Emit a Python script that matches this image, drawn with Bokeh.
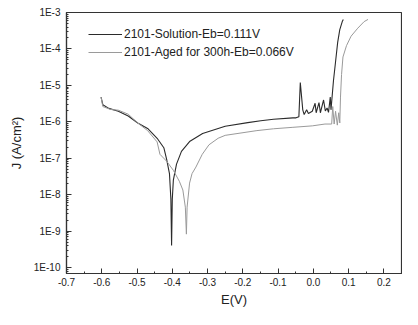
from bokeh.plotting import figure
from bokeh.models import (Range1d, FixedTicker, CustomJSTickFormatter, Legend, LegendItem)
from bokeh.embed import file_html
from bokeh.resources import INLINE

# Data (E in V, log10 of J in A/cm^2)
sol_E = [-0.602, -0.597, -0.580, -0.553, -0.525, -0.498, -0.470, -0.443, -0.424, -0.416,
         -0.408, -0.404, -0.402, -0.400, -0.397, -0.388, -0.374, -0.351, -0.314, -0.250,
         -0.186, -0.149, -0.113, -0.058, -0.049, -0.041, -0.037, -0.030, -0.026, -0.019,
         -0.014, -0.003, 0.005, 0.008, 0.016, 0.020, 0.029, 0.034, 0.039, 0.043,
         0.048, 0.050, 0.057, 0.063, 0.069, 0.075, 0.082, 0.085]
sol_logJ = [-5.32, -5.53, -5.63, -5.71, -5.84, -6.03, -6.18, -6.45, -6.71, -7.03,
            -7.42, -8.12, -9.39, -8.12, -7.60, -7.16, -6.81, -6.54, -6.32, -6.12,
            -6.02, -5.97, -5.93, -5.89, -5.89, -5.86, -4.92, -5.67, -5.80, -5.67,
            -5.77, -5.71, -5.49, -5.75, -5.47, -5.75, -5.40, -5.70, -5.62, -5.74,
            -5.32, -5.67, -4.88, -4.35, -3.82, -3.47, -3.25, -3.19]

aged_E = [-0.602, -0.597, -0.575, -0.553, -0.525, -0.498, -0.470, -0.443, -0.435, -0.416,
          -0.397, -0.380, -0.370, -0.363, -0.360, -0.358, -0.351, -0.344, -0.333, -0.315,
          -0.296, -0.270, -0.250, -0.160, -0.113, -0.058, -0.003, 0.033, 0.052, 0.055,
          0.059, 0.063, 0.068, 0.072, 0.075, 0.077, 0.080, 0.084, 0.094, 0.107,
          0.126, 0.144, 0.155]
aged_logJ = [-5.32, -5.58, -5.66, -5.68, -5.79, -6.03, -6.24, -6.55, -6.89, -7.08,
             -7.33, -7.63, -7.87, -8.34, -9.08, -8.34, -7.68, -7.42, -7.24, -6.89,
             -6.63, -6.45, -6.37, -6.24, -6.19, -6.15, -6.11, -6.06, -6.06, -5.58,
             -6.06, -5.71, -6.09, -5.75, -6.03, -5.32, -4.70, -4.22, -3.91, -3.65,
             -3.43, -3.25, -3.19]

labels = ["2101-Solution-Eb=0.111V", "2101-Aged for 300h-Eb=0.066V"]
x_ticks = [-0.7, -0.6, -0.5, -0.4, -0.3, -0.2, -0.1, 0.0, 0.1, 0.2]
y_decades = [-10, -9, -8, -7, -6, -5, -4, -3]

sol_J = [10 ** v for v in sol_logJ]
aged_J = [10 ** v for v in aged_logJ]

p = figure(width=402, height=309, output_backend="svg", toolbar_location=None,
           y_axis_type="log",
           x_range=Range1d(-0.70, 0.25), y_range=Range1d(10 ** -10.16, 1e-3),
           min_border_left=66, min_border_right=1, min_border_top=12, min_border_bottom=34)
p.background_fill_color = "white"
p.border_fill_color = "white"
p.grid.visible = False
p.outline_line_color = "#333333"
p.outline_line_width = 1.2

r1 = p.line(sol_E, sol_J, line_color="#2b2b2b", line_width=1.1)
r2 = p.line(aged_E, aged_J, line_color="#9a9a9a", line_width=1.0)

# ticks
minor_x = [round(-0.65 + 0.1 * i, 2) for i in range(10)]
p.xaxis.ticker = FixedTicker(ticks=x_ticks, minor_ticks=minor_x)
p.xaxis.formatter = CustomJSTickFormatter(code="return tick.toFixed(1);")
p.yaxis.ticker = FixedTicker(ticks=[10.0 ** d for d in y_decades],
                             minor_ticks=[k * 10.0 ** d for d in range(-11, -3) for k in range(2, 10)])
p.yaxis.formatter = CustomJSTickFormatter(code="return '1E' + Math.round(Math.log10(tick));")

for ax in (p.xaxis[0], p.yaxis[0]):
    ax.axis_line_color = "#333333"
    ax.axis_line_width = 1.2
    ax.major_tick_in = 5
    ax.major_tick_out = 0
    ax.minor_tick_in = 2
    ax.minor_tick_out = 0
    ax.major_tick_line_color = "#333333"
    ax.minor_tick_line_color = "#333333"
    ax.major_label_text_font = "Liberation Sans"
    ax.major_label_text_font_size = "10px"
    ax.major_label_text_color = "#222222"
    ax.axis_label_text_font = "Liberation Sans"
    ax.axis_label_text_font_size = "13px"
    ax.axis_label_text_font_style = "normal"
    ax.axis_label_text_color = "#222222"

p.xaxis.axis_label = "E(V)"
p.yaxis.axis_label = "J (A/cm²)"
p.xaxis.major_label_standoff = 4
p.xaxis.axis_label_standoff = 3
p.yaxis.major_label_standoff = 6
p.yaxis.axis_label_standoff = 7

legend = Legend(items=[LegendItem(label=labels[0], renderers=[r1]),
                       LegendItem(label=labels[1], renderers=[r2])],
                location=(22, 213), padding=0, margin=0, spacing=2,
                glyph_width=34, glyph_height=16, label_height=16, label_standoff=2,
                label_text_font="Liberation Sans", label_text_font_size="12px",
                label_text_color="#222222",
                border_line_alpha=0, background_fill_alpha=0)
p.add_layout(legend)

open("out.html", "w").write(file_html(p, INLINE))
